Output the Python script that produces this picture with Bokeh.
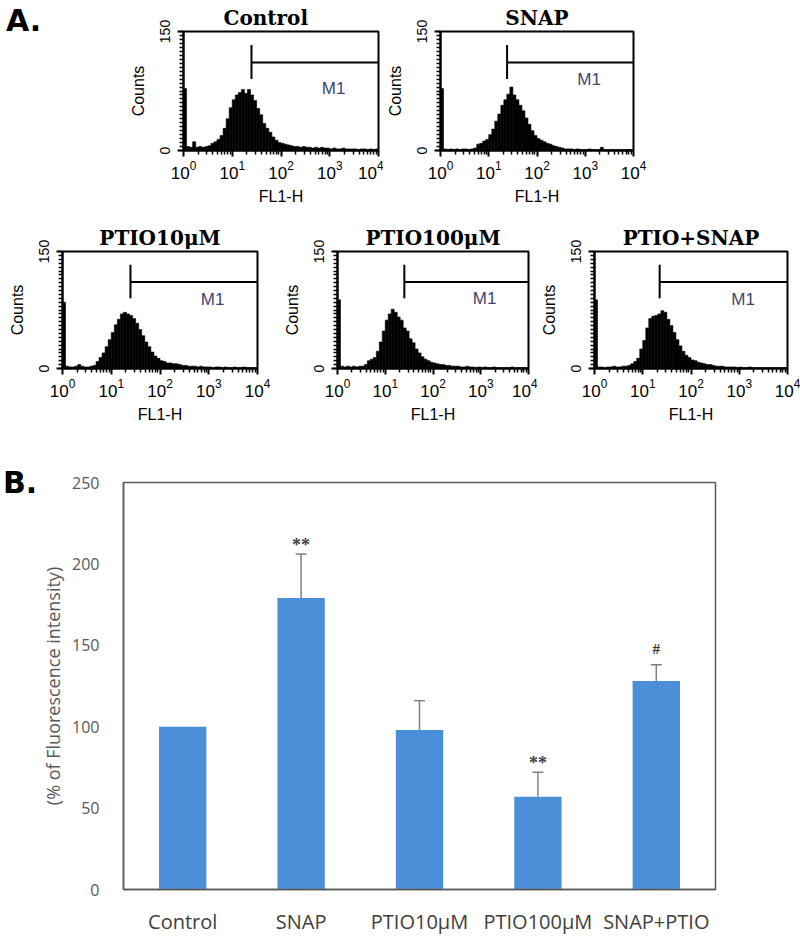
import numpy as np
from bokeh.plotting import figure
from bokeh.layouts import row, column
from bokeh.models import (Range1d, FactorRange, FixedTicker, ColumnDataSource,
                          Whisker, TeeHead, LabelSet, Div)
from bokeh.embed import file_html
from bokeh.resources import INLINE

# ---------------- Panel A: FL1-H histograms ----------------
# 16 channels per decade over 10^0 .. 10^4 (64 channels per sample)
CHANNELS_PER_DECADE = 16
FL_MIN, FL_MAX = 1, 1e4
COUNT_MAX = 150

hist_titles = ["Control", "SNAP", "PTIO10μM", "PTIO100μM", "PTIO+SNAP"]

control_counts = [
    78, 5, 4, 11, 4, 5, 4, 5,
    6, 9, 11, 14, 19, 28, 40, 54,
    64, 70, 73, 77, 72, 77, 70, 63,
    53, 45, 34, 28, 23, 17, 13, 10,
    9, 8, 7, 6, 5, 5, 4, 5,
    4, 4, 3, 4, 3, 4, 3, 3,
    2, 3, 2, 2, 3, 2, 2, 2,
    2, 1, 2, 2, 1, 2, 1, 2,
]
snap_counts = [
    78, 2, 1, 2, 1, 2, 1, 2,
    2, 1, 2, 3, 8, 9, 12, 14,
    20, 27, 37, 46, 57, 64, 71, 80,
    70, 64, 57, 50, 41, 33, 25, 19,
    15, 13, 11, 9, 8, 6, 5, 4,
    3, 2, 2, 2, 1, 2, 1, 1,
    1, 2, 1, 1, 1, 4, 1, 1,
    1, 1, 1, 1, 1, 1, 1, 1,
]
ptio10_counts = [
    85, 3, 2, 2, 3, 5, 3, 2,
    2, 3, 4, 9, 14, 20, 28, 37,
    46, 56, 63, 70, 72, 70, 68, 64,
    58, 50, 42, 34, 28, 21, 16, 13,
    10, 9, 7, 7, 6, 6, 5, 4,
    4, 3, 3, 3, 2, 3, 2, 2,
    2, 1, 2, 2, 1, 2, 1, 1,
    2, 1, 1, 2, 1, 1, 1, 1,
]
ptio100_counts = [
    88, 3, 2, 3, 2, 3, 2, 3,
    3, 5, 10, 12, 14, 22, 34, 48,
    62, 70, 76, 72, 66, 62, 52, 48,
    38, 33, 25, 20, 15, 12, 10, 8,
    7, 6, 5, 5, 4, 4, 3, 3,
    3, 2, 2, 3, 2, 2, 1, 2,
    1, 2, 1, 1, 2, 1, 1, 1,
    1, 1, 2, 1, 1, 1, 1, 1,
]
ptio_snap_counts = [
    88, 2, 2, 1, 2, 2, 3, 2,
    2, 3, 3, 4, 6, 9, 13, 25,
    36, 52, 64, 67, 68, 70, 74, 72,
    63, 55, 46, 37, 29, 22, 17, 14,
    11, 10, 8, 7, 6, 5, 5, 4,
    3, 3, 3, 2, 2, 2, 2, 1,
    2, 1, 1, 2, 1, 1, 1, 1,
    1, 1, 1, 1, 1, 1, 1, 1,
]
hist_counts = [control_counts, snap_counts, ptio10_counts, ptio100_counts, ptio_snap_counts]

# M1 marker: gate start on FL1-H, bracket span and bar level (counts)
m1_gate = [24.8, 24.0, 24.8, 25.1, 22.4]
m1_bracket = (90, 133)
m1_level = 111
m1_label_x = 1200
m1_label_y = [78, 89, 89, 90, 89]

decade_ticks = [1, 10, 100, 1000, 10000]
decade_minor = [k * 10 ** d for d in range(4) for k in range(2, 10)]

SANS = "Liberation Sans"
SERIF = "DejaVu Serif"


def hist_panel(i, left, right, top, bottom, frame_w=195, frame_h=121, title_left=None):
    counts = np.asarray(hist_counts[i], dtype=float)
    edges = 10 ** (np.arange(len(counts) + 1) / CHANNELS_PER_DECADE)
    p = figure(width=left + frame_w + right, height=top + frame_h + bottom,
               x_axis_type="log", x_range=Range1d(FL_MIN, FL_MAX),
               y_range=Range1d(0, COUNT_MAX),
               output_backend="svg", toolbar_location=None,
               min_border_left=left, min_border_right=right,
               min_border_top=top, min_border_bottom=bottom,
               title=hist_titles[i])
    if title_left is None:
        p.title.align = "center"
    else:
        p.title.align = "left"
        p.title.offset = title_left
    p.title.text_font = SERIF
    p.title.text_font_style = "bold"
    p.title.text_font_size = "20px"
    p.title.text_color = "black"
    p.title.standoff = 4

    p.quad(left=edges[:-1], right=edges[1:], bottom=0, top=counts,
           fill_color="black", line_color="black", line_width=0.6)

    g = m1_gate[i]
    p.segment(x0=[g], y0=[m1_bracket[0]], x1=[g], y1=[m1_bracket[1]],
              line_color="black", line_width=2)
    p.segment(x0=[g], y0=[m1_level], x1=[FL_MAX], y1=[m1_level],
              line_color="black", line_width=2)
    p.text(x=[m1_label_x], y=[m1_label_y[i]], text=["M1"],
           text_align="center", text_baseline="middle",
           text_font={"value": SANS}, text_font_size="17px", text_color="#3d4570")

    p.xgrid.visible = False
    p.ygrid.visible = False
    p.outline_line_color = "black"
    p.outline_line_width = 2
    p.outline_line_alpha = 1

    xa = p.xaxis[0]
    xa.ticker = FixedTicker(ticks=decade_ticks, minor_ticks=decade_minor)
    xa.axis_label = "FL1-H"
    ya = p.yaxis[0]
    ya.ticker = FixedTicker(ticks=[0, COUNT_MAX], minor_ticks=list(range(0, COUNT_MAX + 1, 5)))
    ya.axis_label = "Counts"
    ya.major_label_orientation = "vertical"
    for ax in (xa, ya):
        ax.axis_line_color = "black"
        ax.axis_line_width = 2
        ax.major_tick_line_color = "black"
        ax.major_tick_line_width = 2
        ax.minor_tick_line_color = "black"
        ax.minor_tick_line_width = 1.5
        ax.major_tick_in = 0
        ax.minor_tick_in = 0
        ax.major_tick_out = 6
        ax.minor_tick_out = 4
        ax.major_label_text_font = SANS
        ax.major_label_text_color = "black"
        ax.axis_label_text_font = SANS
        ax.axis_label_text_font_style = "normal"
        ax.axis_label_text_color = "black"
        ax.axis_label_text_font_size = "16px"
    xa.major_label_text_font_size = "17px"
    xa.major_label_standoff = 4
    xa.axis_label_standoff = 6
    ya.major_label_text_font_size = "14px"
    ya.major_label_standoff = 8
    ya.axis_label_standoff = 10
    return p


def panel_letter(letter, width, height, pad_top, pad_left):
    html = (f'<div style="padding:{pad_top}px 0 0 {pad_left}px; font-family:\'DejaVu Sans\';'
            f'font-weight:bold; font-size:30px; line-height:30px; color:black;">{letter}</div>')
    return Div(text=html, width=width, height=height, margin=(0, 0, 0, 0))


ROW1_H, ROW2_H, ROW3_H = 215, 225, 497

letter_a = panel_letter("A.", 100, ROW1_H, 6, 6)
h_control = hist_panel(0, left=83, right=5, top=29, bottom=65, title_left=40)
h_snap = hist_panel(1, left=55, right=167, top=31, bottom=63)
h_p10 = hist_panel(2, left=62, right=23, top=36, bottom=68)
h_p100 = hist_panel(3, left=53, right=9, top=32, bottom=72)
h_ps = hist_panel(4, left=55, right=13, top=36, bottom=68)

# ---------------- Panel B: fluorescence intensity bars ----------------
groups = ["Control", "SNAP", "PTIO10μM", "PTIO100μM", "SNAP+PTIO"]
fluor_mean = [100, 179, 98, 57, 128]
fluor_err = [0, 27, 18, 15, 10]
sig_marks = ["", "**", "", "**", "#"]
y_ticks = [0, 50, 100, 150, 200, 250]

BAR_BLUE = "#4a8fd8"
GREY_TXT = "#595959"

LETTER_B_W = 38
letter_b = panel_letter("B.", LETTER_B_W, ROW3_H, 28, 3)
bars = figure(width=800 - LETTER_B_W, height=ROW3_H, x_range=FactorRange(*groups),
              y_range=Range1d(0, 250), output_backend="svg", toolbar_location=None,
              min_border_left=121 - LETTER_B_W, min_border_right=85, min_border_top=42,
              min_border_bottom=40)
bars.vbar(x=groups, top=fluor_mean, width=0.4, fill_color=BAR_BLUE, line_color=None)

has_err = [e > 0 for e in fluor_err]
err_src = ColumnDataSource(dict(
    x=[g for g, k in zip(groups, has_err) if k],
    lower=[m for m, k in zip(fluor_mean, has_err) if k],
    upper=[m + e for m, e, k in zip(fluor_mean, fluor_err, has_err) if k],
))
bars.add_layout(Whisker(base="x", lower="lower", upper="upper", source=err_src,
                        line_color="#7f7f7f", line_width=1.5, lower_head=None,
                        upper_head=TeeHead(size=11, line_color="#7f7f7f", line_width=1.5)))


def mark_source(symbol):
    idx = [j for j, s in enumerate(sig_marks) if s == symbol]
    return ColumnDataSource(dict(
        x=[groups[j] for j in idx],
        top=[fluor_mean[j] + fluor_err[j] for j in idx],
        mark=[sig_marks[j] for j in idx],
    ))


bars.add_layout(LabelSet(x="x", y="top", text="mark", source=mark_source("**"),
                         text_align="center", text_baseline="bottom", y_offset=-1,
                         text_font="Open Sans", text_font_style="bold",
                         text_font_size="18px", text_color="#404040"))
bars.add_layout(LabelSet(x="x", y="top", text="mark", source=mark_source("#"),
                         text_align="center", text_baseline="bottom", y_offset=8,
                         text_font="Open Sans", text_font_style="bold",
                         text_font_size="15px", text_color="#333333"))

bars.xgrid.visible = False
bars.ygrid.visible = False
bars.outline_line_color = GREY_TXT
bars.outline_line_width = 1.5
bars.outline_line_alpha = 1
bars.yaxis.ticker = FixedTicker(ticks=y_ticks)
bars.yaxis.axis_label = "(% of Fluorescence intensity)"
for ax in (bars.xaxis[0], bars.yaxis[0]):
    ax.axis_line_color = GREY_TXT
    ax.axis_line_width = 1.5
    ax.major_tick_line_color = None
    ax.minor_tick_line_color = None
    ax.major_label_text_font = "Open Sans"
    ax.major_label_text_color = GREY_TXT
bars.xaxis.major_label_text_font_size = "20px"
bars.xaxis.major_label_text_color = "#404040"
bars.xaxis.major_label_standoff = 12
bars.yaxis.major_label_text_font_size = "16px"
bars.yaxis.major_label_standoff = 18
bars.yaxis.axis_label_text_font = "Open Sans"
bars.yaxis.axis_label_text_font_style = "normal"
bars.yaxis.axis_label_text_font_size = "18px"
bars.yaxis.axis_label_text_color = GREY_TXT
bars.yaxis.axis_label_standoff = 4

layout = column(row(letter_a, h_control, h_snap),
                row(h_p10, h_p100, h_ps),
                row(letter_b, bars))

with open("out.html", "w") as f:
    f.write(file_html(layout, INLINE))
